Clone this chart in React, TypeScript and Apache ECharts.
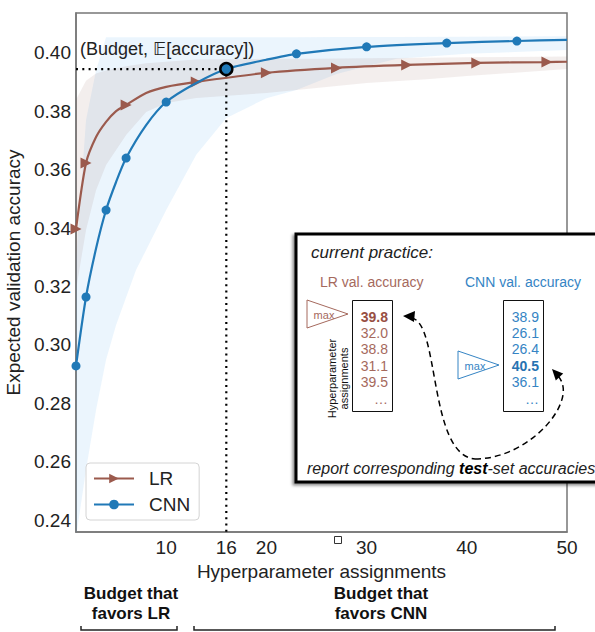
import React, { useEffect, useRef } from "react";
import * as echarts from "echarts";

// ---------- data ----------
const xTickLabels = [10, 16, 20, 30, 40, 50];
const yTickLabels = [0.24, 0.26, 0.28, 0.3, 0.32, 0.34, 0.36, 0.38, 0.4];

const lrBudgets = [1, 2, 3, 4, 5, 6, 8, 10, 13, 20, 27, 34, 41, 48, 50];
const lrAccuracy = [0.3397, 0.3623, 0.3712, 0.3764, 0.3801, 0.3822, 0.3863, 0.3884, 0.3901, 0.3932, 0.3949, 0.3959, 0.3966, 0.3969, 0.397];
const lrMarkerBudgets = [1, 2, 6, 13, 20, 27, 34, 41, 48];

const cnnBudgets = [1, 2, 3, 4, 5, 6, 8, 10, 13, 16, 20, 23, 30, 38, 45, 50];
const cnnAccuracy = [0.2928, 0.3164, 0.333, 0.3462, 0.3558, 0.364, 0.3753, 0.3832, 0.3897, 0.3945, 0.3977, 0.3997, 0.4021, 0.4034, 0.4041, 0.4045];
const cnnMarkerBudgets = [1, 2, 4, 6, 10, 16, 23, 30, 38, 45];
const highlightBudget = 16;

const cnnBandBudgets = [1, 2, 3, 4, 5, 7, 10, 13, 16, 20, 23, 27, 30, 33, 40, 50];
const cnnBandLow = [0.234, 0.2572, 0.2777, 0.2949, 0.3068, 0.3257, 0.3462, 0.3651, 0.3777, 0.3845, 0.3873, 0.3928, 0.3955, 0.398, 0.3997, 0.401];
const cnnBandHigh = [0.329, 0.377, 0.394, 0.4054, 0.4054, 0.4054, 0.4054, 0.4054, 0.4054, 0.4054, 0.4054, 0.4055, 0.4055, 0.4055, 0.4056, 0.4057];

const lrBandBudgets = [1, 2, 3, 4, 6, 8, 10, 13, 20, 25, 30, 36, 40, 50];
const lrBandLow = [0.3188, 0.3394, 0.353, 0.3616, 0.3719, 0.3798, 0.3829, 0.3846, 0.3863, 0.388, 0.3897, 0.391, 0.3921, 0.3945];
const lrBandHigh = [0.384, 0.3905, 0.393, 0.394, 0.3955, 0.3965, 0.397, 0.3978, 0.398, 0.398, 0.3982, 0.3984, 0.3985, 0.3988];

const lrValAccuracies = ["39.8", "32.0", "38.8", "31.1", "39.5", "…"];
const cnnValAccuracies = ["38.9", "26.1", "26.4", "40.5", "36.1", "…"];

const X_MIN = 1;
const X_MAX = 50;
const Y_MIN = 0.2359;
const Y_MAX = 0.4137;

// ---------- styles ----------
const FONT = "'Liberation Sans', Arial, Helvetica, 'DejaVu Sans', sans-serif";
const TXT = "#222";
const LR_COLOR = "#9b5a4d";
const CNN_COLOR = "#2079b7";
const LR_TEXT = "#a5695d";
const LR_TEXT_BOLD = "#984f43";
const CNN_TEXT = "#3584c4";
const CNN_TEXT_BOLD = "#2773b1";

function bandSeries(name: string, xs: number[], lo: number[], hi: number[], fill: string) {
  return {
    type: "custom",
    name,
    silent: true,
    clip: true,
    z: 1,
    data: [[xs[0], lo[0]]],
    renderItem: (params: any, api: any) => {
      const upper = xs.map((x, i) => api.coord([x, hi[i]]));
      const lower = xs.map((x, i) => api.coord([x, lo[i]])).reverse();
      const cs = params.coordSys;
      return {
        type: "polygon",
        shape: { points: upper.concat(lower) },
        style: { fill },
        clipPath: { type: "rect", shape: { x: cs.x, y: cs.y, width: cs.width, height: cs.height } },
      };
    },
  };
}

function txt(text: string, x: number, y: number, o: any = {}) {
  return {
    type: "text",
    x,
    y,
    z: 110,
    rotation: o.rotation || 0,
    style: {
      text,
      fontSize: o.size || 14,
      fontFamily: FONT,
      fontWeight: o.weight || "normal",
      fontStyle: o.style || "normal",
      fill: o.color || TXT,
      align: o.align || "left",
      verticalAlign: "middle",
      lineHeight: o.lineHeight,
      rich: o.rich,
    },
  };
}

function buildOption() {
  const hiIdx = cnnBudgets.indexOf(highlightBudget);
  const hiVal = cnnAccuracy[hiIdx];

  const lrMaxIdx = lrValAccuracies.reduce((best, v, i) => (parseFloat(v) > parseFloat(lrValAccuracies[best]) ? i : best), 0);
  const cnnMaxIdx = cnnValAccuracies.reduce((best, v, i) => (parseFloat(v) > parseFloat(cnnValAccuracies[best]) ? i : best), 0);

  const graphics: any[] = [];
  graphics.push(txt("(Budget, 𝔼[accuracy])", 80, 49, { size: 18 }));
  // small square glyph below axis
  graphics.push({ type: "rect", z: 110, shape: { x: 334.5, y: 536.5, width: 7, height: 7 }, style: { fill: "#fff", stroke: "#333", lineWidth: 1 } });

  // inset box
  graphics.push({
    type: "rect",
    z: 100,
    shape: { x: 296, y: 234, width: 320, height: 248 },
    style: { fill: "#fff", stroke: "#000", lineWidth: 3, shadowBlur: 3, shadowColor: "rgba(0,0,0,0.45)", shadowOffsetX: -2, shadowOffsetY: 2 },
  });
  graphics.push(txt("current practice:", 311, 252, { size: 17, style: "italic" }));
  graphics.push(txt("LR val. accuracy", 320, 282, { size: 14, color: LR_TEXT }));
  graphics.push(txt("CNN val. accuracy", 465, 282, { size: 14, color: CNN_TEXT }));

  // max triangles
  graphics.push({ type: "polygon", z: 105, shape: { points: [[307, 300], [307, 328], [348, 314]] }, style: { fill: "#fff", stroke: LR_TEXT, lineWidth: 1 } });
  graphics.push(txt("max", 324, 315, { size: 11, color: LR_TEXT, align: "center" }));
  graphics.push({ type: "polygon", z: 105, shape: { points: [[458, 351], [458, 379], [499, 365]] }, style: { fill: "#fff", stroke: CNN_TEXT, lineWidth: 1 } });
  graphics.push(txt("max", 475, 366, { size: 11, color: CNN_TEXT, align: "center" }));

  // value boxes
  graphics.push({ type: "rect", z: 105, shape: { x: 352.5, y: 300.5, width: 40, height: 111 }, style: { fill: "#fff", stroke: "#111", lineWidth: 1 } });
  graphics.push({ type: "rect", z: 105, shape: { x: 503.5, y: 300.5, width: 40, height: 111 }, style: { fill: "#fff", stroke: "#111", lineWidth: 1 } });
  const rowY = [317, 333, 349, 365.5, 382, 399];
  lrValAccuracies.forEach((v, i) => {
    const bold = i === lrMaxIdx;
    graphics.push(txt(v, 388, rowY[i], { size: 14, align: "right", color: bold ? LR_TEXT_BOLD : LR_TEXT, weight: bold ? "bold" : "normal" }));
  });
  cnnValAccuracies.forEach((v, i) => {
    const bold = i === cnnMaxIdx;
    graphics.push(txt(v, 539, rowY[i], { size: 14, align: "right", color: bold ? CNN_TEXT_BOLD : CNN_TEXT, weight: bold ? "bold" : "normal" }));
  });
  graphics.push(txt("Hyperparameter\nassignments", 337.5, 378.5, { size: 11, align: "center", rotation: Math.PI / 2, lineHeight: 12, color: "#111" }));

  // dashed arrows
  graphics.push({
    type: "bezierCurve",
    z: 106,
    shape: { x1: 411, y1: 318, cpx1: 440, cpy1: 320, cpx2: 428, cpy2: 455, x2: 475, y2: 459 },
    style: { stroke: "#000", lineWidth: 1.5, lineDash: [6, 4], fill: "none" },
  });
  graphics.push({
    type: "bezierCurve",
    z: 106,
    shape: { x1: 475, y1: 459, cpx1: 530, cpy1: 459, cpx2: 580, cpy2: 400, x2: 558, y2: 376 },
    style: { stroke: "#000", lineWidth: 1.5, lineDash: [6, 4], fill: "none" },
  });
  graphics.push({ type: "polygon", z: 107, shape: { points: [[403, 316], [415, 311], [414, 322]] }, style: { fill: "#000" } });
  graphics.push({ type: "polygon", z: 107, shape: { points: [[552, 369], [563.2, 373.6], [555.8, 380.4]] }, style: { fill: "#000" } });

  graphics.push(
    txt("{a|report corresponding }{b|test}{a|-set accuracies}", 307, 468, {
      size: 16,
      style: "italic",
      rich: {
        a: { fontSize: 16, fontStyle: "italic", fontFamily: FONT, fill: TXT, color: TXT },
        b: { fontSize: 16, fontStyle: "italic", fontWeight: "bold", fontFamily: FONT, fill: "#000", color: "#000" },
      },
    })
  );

  // bottom budget annotations
  graphics.push(txt("Budget that\nfavors LR", 131, 603, { size: 17, weight: "bold", align: "center", lineHeight: 20, color: "#111" }));
  graphics.push(txt("Budget that\nfavors CNN", 381, 603, { size: 17, weight: "bold", align: "center", lineHeight: 20, color: "#111" }));
  graphics.push({ type: "polyline", z: 100, shape: { points: [[81, 626], [81, 630], [177, 630], [177, 626]] }, style: { stroke: "#222", lineWidth: 1.5, fill: "none" } });
  graphics.push({ type: "polyline", z: 100, shape: { points: [[194, 626], [194, 630], [555, 630], [555, 626]] }, style: { stroke: "#222", lineWidth: 1.5, fill: "none" } });

  return {
    animation: false,
    backgroundColor: "#fff",
    textStyle: { fontFamily: FONT },
    grid: { left: 76, top: 13, width: 491, height: 519, show: true, borderColor: "#777", borderWidth: 1.5, backgroundColor: "transparent", outerBoundsMode: "none" },
    xAxis: {
      type: "value",
      min: X_MIN,
      max: X_MAX,
      name: "Hyperparameter assignments",
      nameLocation: "middle",
      nameGap: 25,
      nameTextStyle: { fontSize: 19, color: TXT, fontFamily: FONT },
      axisLine: { show: true, lineStyle: { color: "#777", width: 1.5 } },
      axisTick: { show: false },
      splitLine: { show: false },
      axisLabel: { customValues: xTickLabels, fontSize: 19, color: TXT, margin: 6, fontFamily: FONT },
    },
    yAxis: {
      type: "value",
      min: Y_MIN,
      max: Y_MAX,
      name: "Expected validation accuracy",
      nameLocation: "middle",
      nameGap: 45,
      nameTextStyle: { fontSize: 19, color: TXT, fontFamily: FONT },
      axisLine: { show: true, lineStyle: { color: "#777", width: 1.5 } },
      axisTick: { show: false },
      splitLine: { show: false },
      axisLabel: { customValues: yTickLabels, fontSize: 19, color: TXT, margin: 5, fontFamily: FONT, formatter: (v: number) => v.toFixed(2) },
    },
    legend: {
      data: ["LR", "CNN"],
      orient: "vertical",
      left: 86,
      top: 463,
      itemWidth: 40,
      itemHeight: 12,
      itemGap: 7,
      padding: [6, 9, 6, 7],
      backgroundColor: "rgba(255,255,255,0.85)",
      borderColor: "#d4d4d4",
      borderWidth: 1,
      borderRadius: 4,
      textStyle: { fontSize: 19, color: TXT, fontFamily: FONT, padding: [0, 0, 0, 10] },
    },
    series: [
      bandSeries("cnnBand", cnnBandBudgets, cnnBandLow, cnnBandHigh, "rgba(58,160,240,0.10)"),
      bandSeries("lrBand", lrBandBudgets, lrBandLow, lrBandHigh, "rgba(140,86,75,0.10)"),
      {
        type: "line",
        name: "guide",
        silent: true,
        z: 3,
        symbol: "none",
        data: [
          [X_MIN, hiVal],
          [highlightBudget, hiVal],
          [highlightBudget, Y_MIN],
        ],
        lineStyle: { color: "#000", width: 2.2, type: [2, 4.3] },
      },
      {
        type: "line",
        name: "LR",
        z: 5,
        smooth: 0.25,
        symbol: "triangle",
        symbolSize: 11,
        symbolRotate: -90,
        showAllSymbol: true,
        silent: true,
        data: lrBudgets.map((b, i) => ({ value: [b, lrAccuracy[i]], symbol: lrMarkerBudgets.includes(b) ? "triangle" : "none" })),
        lineStyle: { color: LR_COLOR, width: 2.2 },
        itemStyle: { color: LR_COLOR },
      },
      {
        type: "line",
        name: "CNN",
        z: 6,
        smooth: 0.25,
        symbol: "circle",
        symbolSize: 9,
        showAllSymbol: true,
        silent: true,
        data: cnnBudgets.map((b, i) => {
          if (b === highlightBudget) {
            return { value: [b, cnnAccuracy[i]], symbol: "circle", symbolSize: 12, itemStyle: { color: CNN_COLOR, borderColor: "#000", borderWidth: 2.5 } };
          }
          return { value: [b, cnnAccuracy[i]], symbol: cnnMarkerBudgets.includes(b) ? "circle" : "none" };
        }),
        lineStyle: { color: CNN_COLOR, width: 2.2 },
        itemStyle: { color: CNN_COLOR },
      },
    ],
    graphic: { elements: graphics },
  };
}

export default function App() {
  const ref = useRef<HTMLDivElement>(null);
  useEffect(() => {
    if (!ref.current) return;
    const chart = echarts.init(ref.current, null, { renderer: "svg" });
    chart.setOption(buildOption() as any);
    return () => chart.dispose();
  }, []);
  return <div ref={ref} style={{ position: "absolute", left: 0, top: 0, width: 595, height: 632, background: "#fff" }} />;
}
